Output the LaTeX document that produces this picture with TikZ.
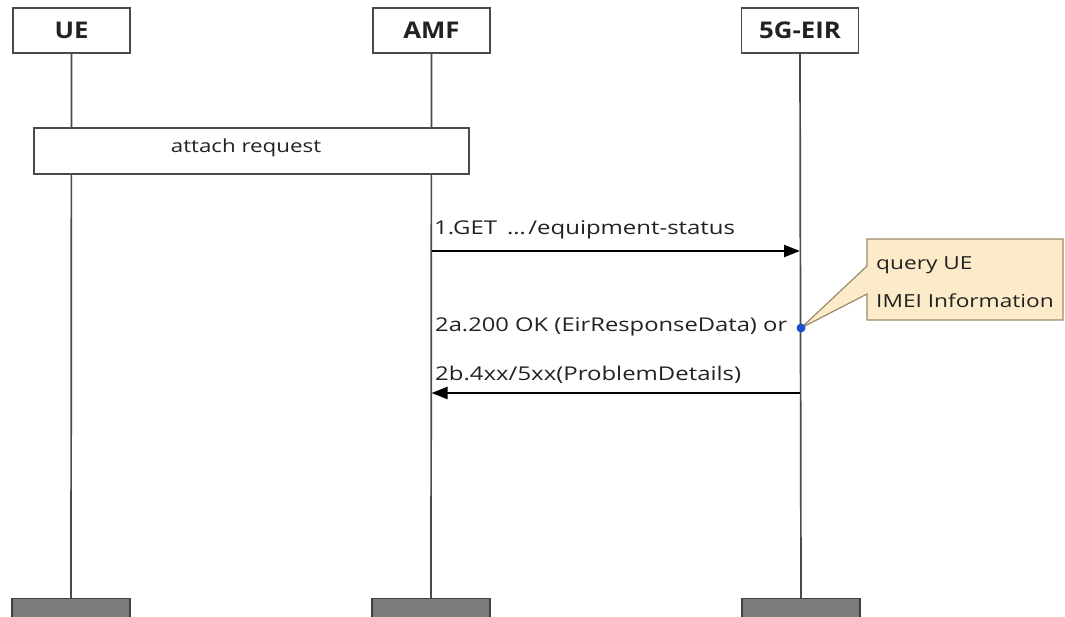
\documentclass[tikz,border=0pt]{standalone}
\usepackage{fontspec}
\setmainfont{Open Sans}
\usetikzlibrary{arrows.meta}
\definecolor{linegray}{HTML}{4A4A4A}
\definecolor{txt}{HTML}{222222}
\definecolor{notefill}{HTML}{FCEBC8}
\definecolor{noteline}{HTML}{9A8A6A}
\definecolor{dotblue}{HTML}{1A4FD0}
\definecolor{footfill}{HTML}{7C7C7C}
\tikzset{
  headbox/.style={draw=linegray, line width=1.6pt, fill=white, minimum width=117pt, minimum height=45pt, inner sep=0pt, font=\fontsize{23}{26}\selectfont\bfseries, text=txt},
  footbox/.style={draw=black!75, line width=1.2pt, fill=footfill, minimum width=118pt, minimum height=19pt, inner sep=0pt},
  lifeline/.style={draw=linegray, line width=1.7pt},
  msg/.style={draw=black, line width=2.2pt, -{Triangle[length=16pt,width=12pt]}},
  msgtext/.style={font=\fontsize{19}{22}\selectfont, text=txt, inner sep=0pt, anchor=base west},
  notetext/.style={font=\fontsize{18}{21}\selectfont, text=txt, inner sep=0pt, anchor=base west}
}
\begin{document}
\begin{tikzpicture}[x=1pt,y=-1pt]
\useasboundingbox (0,0) rectangle (1065,617);
% heads
\node[headbox] (ue) at (71.5,30.5) {\scalebox{1.12}[1]{UE}};
\node[headbox] (amf) at (431.5,30.5) {\scalebox{1.12}[1]{AMF}};
\node[headbox] (eir) at (800,30.5) {\scalebox{1.12}[1]{5G-EIR}};
% feet
\node[footbox] (uef) at (71,608) {};
\node[footbox] (amff) at (431,608) {};
\node[footbox] (eirf) at (801,608) {};
% lifelines
\draw[lifeline] (ue.south) -- (uef.north);
\draw[lifeline] (amf.south) -- (amff.north);
\draw[lifeline] (eir.south) -- (eirf.north);
% attach request
\node[draw=linegray, line width=1.6pt, fill=white, minimum width=435pt, minimum height=46pt, inner sep=0pt, anchor=north west] (att) at (33,127) {};
\node[font=\fontsize{18}{21}\selectfont, text=txt, inner sep=0pt, anchor=base] (attt) at (246,153) {\scalebox{1.24}[1]{attach request}};
% coordinates on lifelines
\coordinate (a1) at (431.5,251);
\coordinate (e1) at (800,251);
\coordinate (e2) at (800,393);
\coordinate (a2) at (431.5,393);
\draw[msg] (a1) -- (e1);
\draw[msg] (e2) -- (a2);
\node[msgtext] (m1) at (434,235) {\scalebox{1.26}[1]{1.GET\hspace{8pt}…\hspace{2pt}/equipment-status}};
\node[msgtext] (m2) at (435,332) {\scalebox{1.25}[1]{2a.200 OK (EirResponseData) or}};
\node[msgtext] (m3) at (435,380) {\scalebox{1.26}[1]{2b.4xx/5xx(ProblemDetails)}};
% note callout
\coordinate (dot) at (801,328);
\draw[draw=noteline, line width=1.2pt, fill=notefill] (867,239) -- (1063,239) -- (1063,320) -- (867,320) -- (867,294) -- (dot) -- (867,266) -- cycle;
\node[circle, fill=dotblue, minimum size=9pt, inner sep=0pt] (d) at (dot) {};
\node[notetext] (n1) at (876,270) {\scalebox{1.26}[1]{query UE}};
\node[notetext] (n2) at (876,308) {\scalebox{1.26}[1]{IMEI Information}};
\end{tikzpicture}
\end{document}
